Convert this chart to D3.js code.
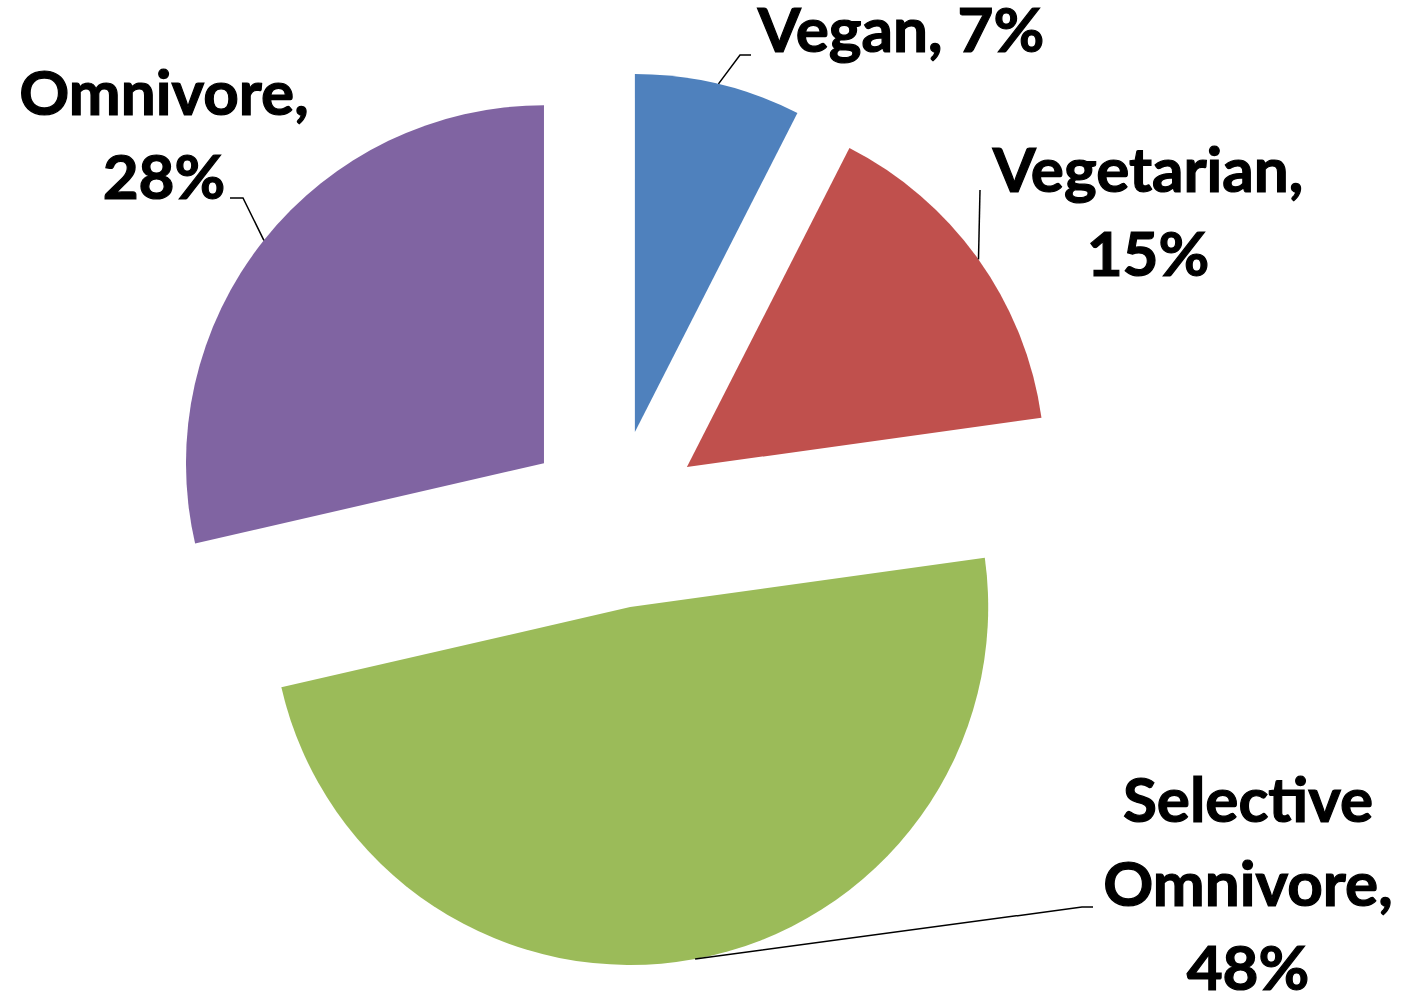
<!DOCTYPE html>
<html>
<head>
<meta charset="utf-8">
<script src="https://cdn.jsdelivr.net/npm/d3@7/dist/d3.min.js"></script>
<style>
  html, body { margin: 0; padding: 0; background: #ffffff; }
  svg { display: block; }
</style>
</head>
<body>
<svg id="chart" width="1414" height="996"></svg>
<script>
// ---- data ----
const categories = ["Vegan", "Vegetarian", "Selective Omnivore", "Omnivore"];
const values = [7.5, 15.3, 48.6, 28.6];
const labelLines = [
  ["Vegan, 7%"],
  ["Vegetarian,", "15%"],
  ["Selective", "Omnivore,", "48%"],
  ["Omnivore,", "28%"]
];
const colors = ["#4F81BD", "#C0504D", "#9BBB59", "#8064A2"];

// ---- layout ----
const cx = 614, cy = 519;
const radius = 358;
const explode = 89.5;
const fontSize = 62;
const lineHeight = 84;
// label layout: center x, first baseline y, leader elbow/end points
const labelLayout = [
  { x: 901, y: 52, leader: [[740, 55], [751, 55]] },
  { x: 1148, y: 192, leader: [[980, 190]] },
  { x: 1248, y: 822, leader: [[1082, 907], [1093, 907]] },
  { x: 164, y: 115, leader: [[243, 198], [230, 198]] }
];

const svg = d3.select("#chart");

const pie = d3.pie().sort(null).value(d => d).startAngle(0).endAngle(2 * Math.PI);
const arcs = pie(values);
const arc = d3.arc().innerRadius(0).outerRadius(radius);

function offset(d) {
  const a = (d.startAngle + d.endAngle) / 2;
  return [explode * Math.sin(a), -explode * Math.cos(a)];
}

const g = svg.append("g").attr("transform", `translate(${cx},${cy})`);

g.selectAll("path.slice")
  .data(arcs)
  .join("path")
  .attr("class", "slice")
  .attr("d", arc)
  .attr("fill", (d, i) => colors[i])
  .attr("transform", d => { const [dx, dy] = offset(d); return `translate(${dx},${dy})`; });

// leader lines: start at mid-angle on the outer edge of each exploded slice
arcs.forEach((d, i) => {
  const a = (d.startAngle + d.endAngle) / 2;
  const [dx, dy] = offset(d);
  const sx = cx + dx + radius * Math.sin(a);
  const sy = cy + dy - radius * Math.cos(a);
  const pts = [[sx, sy]].concat(labelLayout[i].leader);
  svg.append("path")
    .attr("d", d3.line()(pts))
    .attr("fill", "none")
    .attr("stroke", "#000")
    .attr("stroke-width", 1.5);
});

// labels
labelLines.forEach((lines, i) => {
  const L = labelLayout[i];
  const t = svg.append("text")
    .attr("text-anchor", "middle")
    .attr("font-family", "Lato, 'Open Sans', sans-serif")
    .attr("font-weight", "bold")
    .attr("font-size", fontSize)
    .attr("fill", "#000")
    .attr("stroke", "#000")
    .attr("stroke-width", 1.2);
  lines.forEach((s, j) => {
    t.append("tspan").attr("x", L.x).attr("y", L.y + j * lineHeight).text(s);
  });
});
</script>
</body>
</html>
